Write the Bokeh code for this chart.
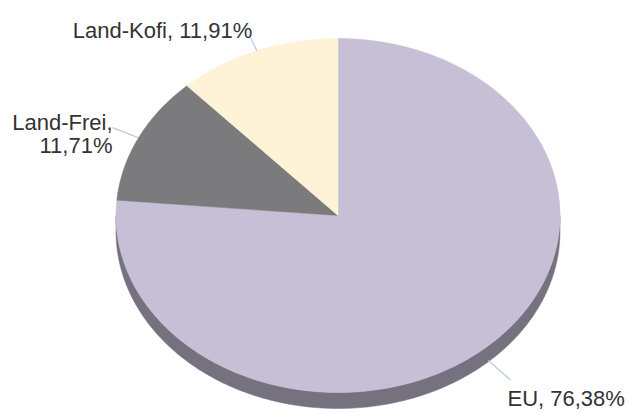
import numpy as np
from bokeh.plotting import figure
from bokeh.models import Range1d
from bokeh.core.properties import value
from bokeh.embed import file_html
from bokeh.resources import INLINE

# ---- data ----
categories = ["EU", "Land-Frei", "Land-Kofi"]
shares = [76.38, 11.71, 11.91]
label_texts = ["EU, 76,38%", "Land-Frei,\n11,71%", "Land-Kofi, 11,91%"]
colors = ["#C6BFD5", "#7B7B7D", "#FFF3D7"]
side_color = "#76717F"
leader_color = "#B4C6DC"
text_color = "#333333"

W, H = 629, 415
p = figure(width=W, height=H, output_backend="svg", toolbar_location=None,
           x_range=Range1d(0, W), y_range=Range1d(H, 0),
           min_border=0, x_axis_location=None, y_axis_location=None)
p.grid.visible = False
p.outline_line_color = None
p.background_fill_color = "white"

cx, cy, rx, ry, depth = 337.5, 215.0, 222.0, 177.0, 16.0


def pt(phi_deg, r=1.0):
    phi = np.radians(phi_deg)
    return cx + r * rx * np.sin(phi), cy - r * ry * np.cos(phi)


# side band (front half)
front = np.linspace(90, 270, 200)
tx, ty = pt(front)
sx = np.concatenate([tx, tx[::-1]])
sy = np.concatenate([ty, (ty + depth)[::-1]])
p.patch(sx, sy, fill_color=side_color, line_color=side_color, line_width=0.5)

# top wedges
total = sum(shares)
start = 0.0
mids = []
for share, col in zip(shares, colors):
    span = share / total * 360.0
    angs = np.linspace(start, start + span, max(int(span * 2), 4))
    ax, ay = pt(angs)
    xs = np.concatenate([[cx], ax])
    ys = np.concatenate([[cy], ay])
    p.patch(xs, ys, fill_color=col, line_color=col, line_width=0.5)
    mids.append(start + span / 2)
    start += span

# leader lines and labels
leader_r = [(1.0, 1.15, depth * 0.9), (1.0, 1.13, 0.0), (1.0, 1.08, 0.0)]
label_pos = [(507, 398, "left"), (112, 122, "right"), (162, 30, "center")]
for mid, (r0, r1, dy), txt, (lx, ly, al) in zip(mids, leader_r, label_texts, label_pos):
    x0, y0 = pt(mid, r0)
    x1, y1 = pt(mid, r1)
    p.line([x0, x1], [y0 + dy, y1 + dy], line_color=leader_color, line_width=1.2)
    for i, line in enumerate(txt.split("\n")):
        p.text(x=[lx], y=[ly + i * 23], text=[line], text_align=al,
               text_baseline="alphabetic", text_font=value("Liberation Sans"),
               text_font_size="22px", text_color=text_color)

open("out.html", "w").write(file_html(p, INLINE))
